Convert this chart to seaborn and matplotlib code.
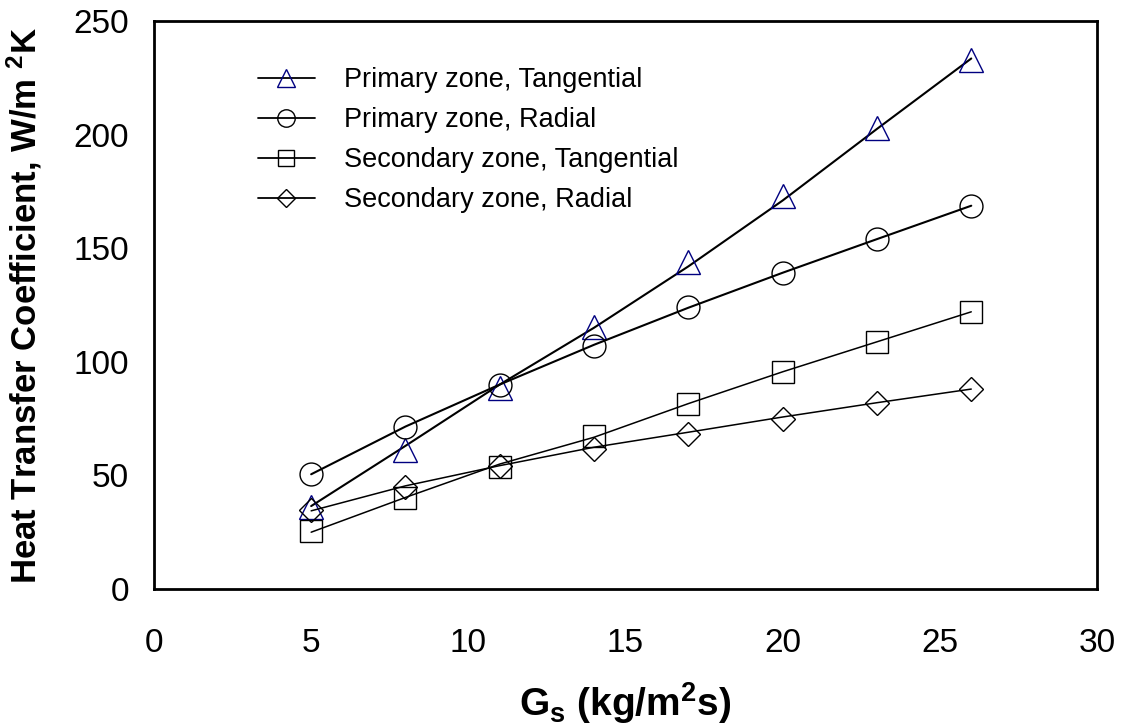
import seaborn as sns
import matplotlib.pyplot as plt
from matplotlib.lines import Line2D

# solids flux values (x axis)
gs = [5, 8, 11, 14, 17, 20, 23, 26]

# measured heat transfer coefficients (markers)
pri_tan = [36, 61, 88.5, 115.5, 144, 173, 203, 233]
pri_rad = [50.5, 71.5, 90, 107, 124, 139, 154, 168.7]
sec_tan = [25.5, 40, 53.8, 67.2, 81.3, 95.4, 108.6, 121.8]
sec_rad = [34.7, 45, 54, 61.8, 68.4, 75, 82, 88]

# trend lines as drawn in the original
pri_tan_fit = [36.5, 63, 90, 115, 142, 171, 202.5, 233.5]
pri_rad_fit = [50.5, 71.5, 90, 107.5, 123.8, 139.2, 154, 168.7]
sec_tan_fit = [25, 40.3, 55, 66.8, 81.6, 95.6, 108.8, 122]
sec_rad_fit = [34.4, 45.4, 54.3, 62.4, 69, 75.7, 82, 88]

labels = ['Primary zone, Tangential', 'Primary zone, Radial',
          'Secondary zone, Tangential', 'Secondary zone, Radial']

sns.set_style('white')
plt.rcParams['font.family'] = ['Liberation Sans', 'DejaVu Sans']
plt.rcParams['text.color'] = 'black'
plt.rcParams['axes.labelcolor'] = 'black'
plt.rcParams['mathtext.fontset'] = 'custom'
plt.rcParams['mathtext.rm'] = 'Liberation Sans:bold'
plt.rcParams['mathtext.default'] = 'rm'

fig = plt.figure(figsize=(11.22, 7.27), dpi=100)
ax = fig.add_axes([154 / 1122, 138 / 727, 943 / 1122, 568 / 727])

series = [
    (pri_tan, pri_tan_fit, '^', '#000080', 17, 1.5),
    (pri_rad, pri_rad_fit, 'o', 'black', 16.5, 1.5),
    (sec_tan, sec_tan_fit, 's', 'black', 15.8, 1.1),
    (sec_rad, sec_rad_fit, 'D', 'black', 12.2, 1.1),
]

handles = []
for (vals, fit, mk, col, ms, lw), lab in zip(series, labels):
    # trend line
    sns.lineplot(x=gs, y=fit, ax=ax, color='black', linewidth=lw)
    # data markers, hollow
    sns.lineplot(x=gs, y=vals, ax=ax, linestyle='none', marker=mk,
                 markersize=ms, markerfacecolor='none', markeredgecolor=col,
                 markeredgewidth=1.0, color=col)
    handles.append(Line2D([], [], color='black', linewidth=1.3, marker=mk,
                          markersize=ms * 0.76, markerfacecolor='none',
                          markeredgecolor=col, markeredgewidth=1.0))

ax.set_xlim(0, 30)
ax.set_ylim(0, 250)
ax.set_xticks(range(0, 31, 5))
ax.set_yticks(range(0, 251, 50))

for s in ax.spines.values():
    s.set_linewidth(2)
    s.set_color('black')

ax.tick_params(axis='both', direction='out', length=6, width=1.2,
               color='black', labelsize=24, labelcolor='black')
ax.tick_params(axis='x', pad=22)
ax.tick_params(axis='y', pad=12)

ax.set_xlabel(r'G$_{s}$ (kg/m$^{2}$s)', fontsize=28, fontweight='bold')
ax.set_ylabel(r'Heat Transfer Coefficient, W/m $^{2}$K', fontsize=25,
              fontweight='bold')
ax.xaxis.set_label_coords(0.5, -0.16)
ax.yaxis.set_label_coords(-0.117, 0.5)

ax.legend(handles, labels, loc='upper left', bbox_to_anchor=(0.110, 0.919),
          frameon=False, fontsize=19.5, handlelength=2.1, handletextpad=1.1,
          labelspacing=0.52, borderpad=0, borderaxespad=0, labelcolor='black')

fig.savefig('out.png', dpi=100)
